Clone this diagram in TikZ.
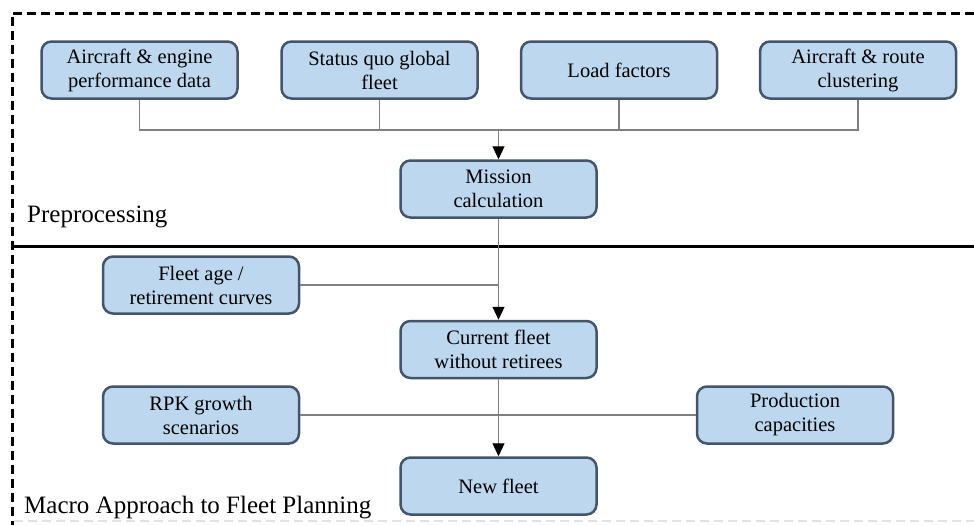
\documentclass[tikz,border=0pt]{standalone}
\usepackage{fontspec}
\setmainfont{Liberation Serif}
\usetikzlibrary{arrows.meta}
\definecolor{boxfill}{HTML}{BDD7EE}
\definecolor{boxline}{HTML}{44546A}
\definecolor{wirecol}{HTML}{808080}
\definecolor{faint}{HTML}{E2E2E2}

\begin{document}
\begin{tikzpicture}[x=1pt,y=-1pt,
  stepbox/.style={draw=boxline, line width=2.5pt, fill=boxfill, rounded corners=10pt,
    minimum width=196pt, minimum height=57pt, align=center, inner sep=0pt,
    font=\fontsize{20.5}{24}\selectfont},
  wire/.style={draw=wirecol, line width=1.1pt},
  flow/.style={wire, -{Triangle[length=13pt,width=12pt,color=black]}},
  phase/.style={anchor=base west, inner sep=0pt, font=\fontsize{25}{30}\selectfont},
  frame/.style={line width=3pt, dash pattern=on 9pt off 5pt}
]
\useasboundingbox (0,0) rectangle (974,525);

% outer frame and phase separator
\draw[frame] (974,13) -- (12,13) -- (12,525);
\draw[faint, line width=1.5pt, dash pattern=on 9pt off 5pt] (14,521) -- (974,521);
\draw[line width=3pt] (12,246) -- (974,246);

% preprocessing inputs
\node[stepbox] (perf)  at (139.5,70) {Aircraft \& engine\\performance data};
\node[stepbox] (fleet) at (379.5,70) {Status quo global\\fleet};
\node[stepbox] (load)  at (619,70)   {Load factors};
\node[stepbox] (clust) at (858,70)   {Aircraft \& route\\clustering};
\node[stepbox] (mission) at (498.5,189) {Mission\\calculation};

% macro approach
\node[stepbox] (age)     at (201,285)   {Fleet age /\\retirement curves};
\node[stepbox] (current) at (498.5,349.5) {Current fleet\\without retirees};
\node[stepbox] (rpk)     at (201,415)   {RPK growth\\scenarios};
\node[stepbox] (prod)    at (795,415)   {Production\\capacities};
\node[stepbox] (new)     at (498.5,486) {New fleet};

% phase labels
\node[phase] (pre)   at (27,222) {Preprocessing};
\node[phase] (macro) at (24,513) {Macro Approach to Fleet Planning};

% input bus
\coordinate (bus) at (498.5,130);
\draw[wire] (perf.south) |- (clust.south |- bus) -- (clust.south);
\draw[wire] (fleet.south) -- (fleet.south |- bus);
\draw[wire] (load.south) -- (load.south |- bus);
\draw[flow] (bus) -- (mission);

% main flow
\draw[flow] (mission) -- (current);
\draw[wire] (age.east) -- (age.east -| current);
\draw[flow] (current) -- (new);
\draw[wire] (rpk) -- (prod);
\end{tikzpicture}
\end{document}
